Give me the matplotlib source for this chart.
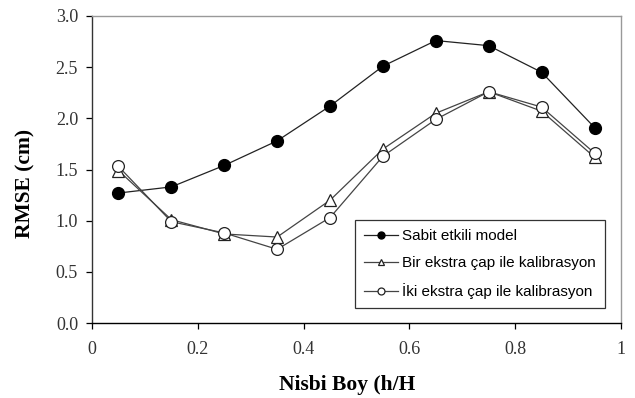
import matplotlib.pyplot as plt
import matplotlib.ticker as mticker

# Data
nisbi_boy = [0.05, 0.15, 0.25, 0.35, 0.45, 0.55, 0.65, 0.75, 0.85, 0.95]
sabit     = [1.27, 1.33, 1.54, 1.78, 2.12, 2.51, 2.76, 2.71, 2.45, 1.91]
bir_ekstra = [1.49, 1.01, 0.87, 0.84, 1.20, 1.70, 2.05, 2.26, 2.07, 1.62]
iki_ekstra = [1.53, 0.99, 0.88, 0.72, 1.03, 1.63, 1.99, 2.26, 2.11, 1.66]

series_labels = ["Sabit etkili model",
                 "Bir ekstra çap ile kalibrasyon",
                 "İki ekstra çap ile kalibrasyon"]


def fmt_x(v, pos):
    # Excel style: 0 and 1 without decimals
    if abs(v) < 1e-9:
        return "0"
    if abs(v - 1) < 1e-9:
        return "1"
    return f"{v:.1f}"


fig = plt.figure(figsize=(6.35, 3.98), dpi=100)
ax = fig.add_axes([92/635, 1 - 323/398, (621-92)/635, (323-16)/398])

ax.plot(nisbi_boy, sabit, color="#222222", lw=0.9, marker="o", ms=8.5,
        mfc="black", mec="black", label=series_labels[0], zorder=3)
ax.plot(nisbi_boy, bir_ekstra, color="#444444", lw=0.9, marker="^", ms=8,
        mfc="white", mec="#222222", mew=0.9, label=series_labels[1], zorder=4)
ax.plot(nisbi_boy, iki_ekstra, color="#444444", lw=0.9, marker="o", ms=8.5,
        mfc="white", mec="#222222", mew=0.9, label=series_labels[2], zorder=5)

ax.set_xlim(0, 1)
ax.set_ylim(0, 3.0)
ax.xaxis.set_major_locator(mticker.MultipleLocator(0.2))
ax.yaxis.set_major_locator(mticker.MultipleLocator(0.5))
ax.xaxis.set_major_formatter(mticker.FuncFormatter(fmt_x))
ax.yaxis.set_major_formatter(mticker.FormatStrFormatter("%.1f"))

for lab in ax.get_xticklabels() + ax.get_yticklabels():
    lab.set_fontfamily("Liberation Serif")
    lab.set_fontsize(13)
    lab.set_color("#333333")
ax.tick_params(direction="out", length=4, width=0.9, color="black")
ax.tick_params(axis="x", pad=9)
ax.tick_params(axis="y", pad=6)

ax.spines["left"].set_color("#333333")
ax.spines["bottom"].set_color("black")
ax.spines["top"].set_color("#999999")
ax.spines["right"].set_color("#999999")
for s in ax.spines.values():
    s.set_linewidth(1.0)

ax.set_xlabel("Nisbi Boy (h/H", fontfamily="Liberation Serif", fontweight="bold",
              fontsize=15.5, va="center")
ax.set_ylabel("RMSE (cm)", fontfamily="Liberation Serif", fontweight="bold",
              fontsize=15.5, va="center")
ax.xaxis.set_label_coords(0.482, -0.202)
ax.yaxis.set_label_coords(-0.125, 0.453)

leg = ax.legend(loc="upper left", bbox_to_anchor=(0.497, 0.3355), borderaxespad=0,
                prop={"family": "Liberation Sans", "size": 11},
                frameon=True, fancybox=False, edgecolor="black",
                handlelength=2.2, borderpad=0.6, labelspacing=0.85, handletextpad=0.3)
leg.get_frame().set_linewidth(0.9)
for h in leg.legend_handles:
    h.set_markersize(5)

fig.savefig("out.png", dpi=100)
